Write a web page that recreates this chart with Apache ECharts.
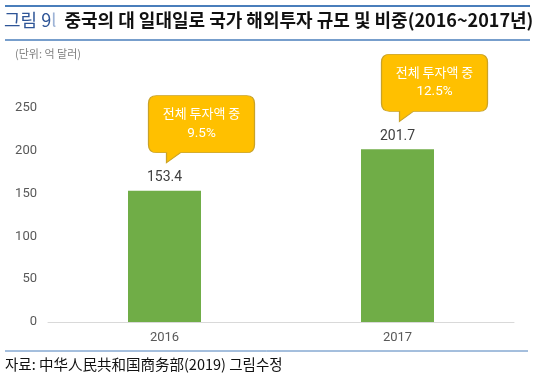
<!DOCTYPE html>
<html><head><meta charset="utf-8">
<script src="https://cdn.jsdelivr.net/npm/echarts@6/dist/echarts.min.js"></script>
<style>html,body{margin:0;padding:0;background:#fff}#c{width:542px;height:386px}</style>
</head><body><div id="c"></div>
<script>
const categories = ['2016', '2017'];
const investment = [153.4, 201.7];
const shareLabels = ['9.5%', '12.5%'];
const yTicks = [0, 50, 100, 150, 200, 250];

const FONT = 'Noto Sans CJK KR';
const NUMFONT = 'Roboto';
const bubblePath = 'path://M8 0 L98 0 Q106 0 106 8 L106 49 Q106 57 98 57 L32 57 L18 67 L18 57 L8 57 Q0 57 0 49 L0 8 Q0 0 8 0 Z';

const chart = echarts.init(document.getElementById('c'), null, {renderer: 'canvas'});
chart.setOption({
  animation: false,
  backgroundColor: '#ffffff',
  textStyle: {fontFamily: FONT},
  grid: {left: 48, right: 28, top: 108, bottom: 64},
  xAxis: {
    type: 'category', data: categories,
    axisLine: {lineStyle: {color: '#d9d9d9', width: 1}},
    axisTick: {show: false},
    axisLabel: {color: '#595959', fontSize: 13, margin: 9, fontFamily: NUMFONT}
  },
  yAxis: {
    type: 'value', min: yTicks[0], max: yTicks[yTicks.length - 1], interval: 50,
    splitLine: {show: false},
    axisLine: {show: false}, axisTick: {show: false},
    axisLabel: {color: '#595959', fontSize: 13, margin: 11, fontFamily: NUMFONT}
  },
  series: [{
    type: 'bar', data: investment, barWidth: 73,
    itemStyle: {color: '#70AD47'},
    label: {show: true, position: 'top', distance: 6, color: '#404040', fontSize: 14, fontFamily: NUMFONT},
    markPoint: {
      symbol: bubblePath,
      symbolSize: [106, 67],
      symbolKeepAspect: false,
      symbolOffset: [37, -61.5],
      itemStyle: {color: '#FFC000', borderColor: '#C9A227', borderWidth: 1},
      label: {
        show: true, position: 'inside', offset: [0, -6],
        color: '#ffffff', fontSize: 13, lineHeight: 20, fontFamily: FONT
      },
      data: categories.map((c, i) => ({
        coord: [c, investment[i]],
        value: shareLabels[i],
        label: {
          formatter: '{k|전체 투자액 중}\n{n|' + shareLabels[i] + '}',
          rich: {
            k: {color: '#ffffff', fontSize: 13, lineHeight: 20, fontFamily: FONT},
            n: {color: '#ffffff', fontSize: 13.5, lineHeight: 20, fontFamily: NUMFONT}
          }
        }
      }))
    }
  }],
  graphic: [
    {type: 'line', shape: {x1: 5, y1: 6, x2: 530, y2: 6}, style: {stroke: '#4A7EBB', lineWidth: 2}},
    {type: 'line', shape: {x1: 5, y1: 40, x2: 530, y2: 40}, style: {stroke: '#4A7EBB', lineWidth: 1.5}},
    {type: 'text', left: 4, top: 11, style: {
      text: '{b|그림 9}{s|l}{k|  중국의 대 일대일로 국가 해외투자 규모 및 비중(2016~2017년)}',
      rich: {
        b: {fill: '#2E5597', fontSize: 18, fontFamily: FONT},
        s: {fill: '#9DB3D6', fontSize: 18, fontFamily: FONT},
        k: {fill: '#111111', fontSize: 18, fontWeight: 'bold', fontFamily: FONT}
      }
    }},
    {type: 'text', left: 15, top: 48, style: {text: '(단위: 억 달러)', fill: '#808080', fontSize: 11, fontFamily: FONT}},
    {type: 'line', shape: {x1: 5, y1: 351, x2: 528, y2: 351}, style: {stroke: '#4A7EBB', lineWidth: 1}},
    {type: 'text', left: 5, top: 357, style: {text: '자료: 中华人民共和国商务部(2019) 그림수정', fill: '#111111', fontSize: 14.5, fontFamily: FONT}}
  ]
});
</script></body></html>
